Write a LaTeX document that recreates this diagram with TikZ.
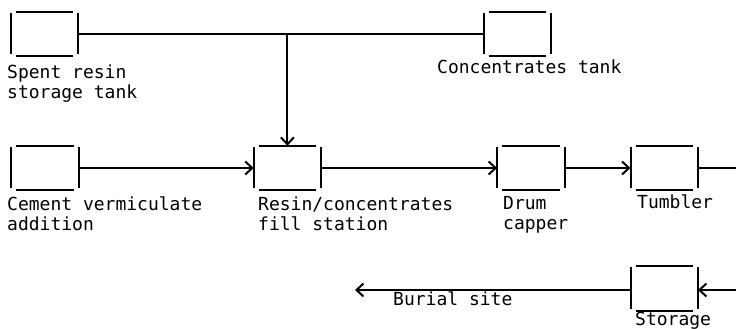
\documentclass[tikz,border=0pt]{standalone}
\usepackage{fontspec}
\newfontfamily\printfont{DejaVu Sans Mono}
\usetikzlibrary{arrows.meta, positioning}
\tikzset{
  boxline/.style={line width=2pt},
  tankbox/.style={rectangle, inner sep=0pt,
    minimum width=67pt, minimum height=44pt,
    append after command={
      ([yshift=-1pt]\tikzlastnode.north west) edge[boxline] ([yshift=2pt]\tikzlastnode.south west)
      ([yshift=-1pt]\tikzlastnode.north east) edge[boxline] ([yshift=2pt]\tikzlastnode.south east)
      ([xshift=5pt]\tikzlastnode.north west) edge[boxline] ([xshift=-5pt]\tikzlastnode.north east)
      ([xshift=5pt]\tikzlastnode.south west) edge[boxline] ([xshift=-5pt]\tikzlastnode.south east)}},
  tag/.style={font=\printfont\fontsize{18}{20}\selectfont,
    align=left, inner sep=0pt, anchor=base west},
  pipe/.style={line width=2pt},
  flow/.style={-{Straight Barb[length=7pt,width=13pt]}, line width=2pt}
}
\begin{document}
\begin{tikzpicture}[x=1pt, y=-1pt]
  \useasboundingbox (0,0) rectangle (736,329);

  % process row
  \node[tankbox] (cement) at (45,168) {};
  \node[tankbox, right=175pt of cement] (resin) {};
  \node[tankbox, right=176pt of resin] (drum) {};
  \node[tankbox, right=66pt of drum] (tumbler) {};
  \node[tankbox, below=76pt of tumbler] (storage) {};

  % feed tanks
  \node[tankbox] (spent) at (44.5,34) {};
  \node[tankbox] (conc) at (517.5,34) {};

  % labels (base = last line)
  \node[tag] (spentlbl) at (7,98) {Spent resin\\storage tank};
  \node[tag] (conclbl) at (437,74) {Concentrates tank};
  \node[tag] (cementlbl) at (7,230) {Cement vermiculate\\addition};
  \node[tag] (resinlbl) at (258,230) {Resin/concentrates\\fill station};
  \node[tag] (drumlbl) at (503,229) {Drum\\capper};
  \node[tag] (tumblerlbl) at (637,208) {Tumbler};
  \node[tag] (storagelbl) at (635,325) {Storage};
  \node[tag] (buriallbl) at (393,305) {Burial site};

  \coordinate (join) at (resin.north |- spent.east);
  \coordinate (tumblerout) at (736,168);
  \coordinate (storagein) at (736,290);
  \coordinate (burial) at (355,290);

  \draw[pipe] (spent.east) -- (conc.west);
  \draw[flow] (join) -- (resin.north);
  \draw[flow] (cement.east) -- (resin.west);
  \draw[flow] (resin.east) -- (drum.west);
  \draw[flow] (drum.east) -- (tumbler.west);
  \draw[pipe] (tumbler.east) -- (tumblerout);
  \draw[flow] (storagein) -- (storage.east |- storagein);
  \draw[flow] (storage.west |- burial) -- (burial);
\end{tikzpicture}
\end{document}
